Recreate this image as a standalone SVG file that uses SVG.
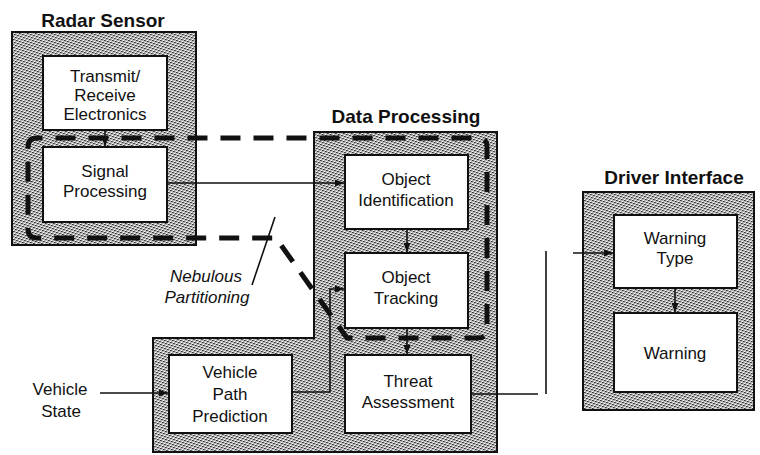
<svg xmlns="http://www.w3.org/2000/svg" width="760" height="455" viewBox="0 0 760 455">
<style>
.t{font-family:"Liberation Sans",Arial,Helvetica,sans-serif;font-size:17px;text-anchor:middle;fill:#111}
.title{font-family:"Liberation Sans",Arial,Helvetica,sans-serif;font-size:19px;font-weight:bold;text-anchor:middle;fill:#111}
.it{font-family:"Liberation Sans",Arial,Helvetica,sans-serif;font-size:17px;font-style:italic;text-anchor:middle;fill:#111}
.cont{fill:url(#stip);stroke:#111;stroke-width:2}
.box{fill:#fff;stroke:#111;stroke-width:2}
.conn{fill:none;stroke:#111;stroke-width:1.6}
.arr{marker-end:url(#ah)}
.part{fill:none;stroke:#111;stroke-width:5;stroke-dasharray:20 13}
</style>
<defs>
<pattern id="stip" width="8" height="8" patternUnits="userSpaceOnUse">
<g shape-rendering="crispEdges">
<rect width="8" height="8" fill="#b8b8b8"/>
<rect x="0" y="0" width="1" height="1" fill="#333"/>
<rect x="3" y="1" width="1" height="1" fill="#333"/>
<rect x="6" y="2" width="1" height="1" fill="#333"/>
<rect x="1" y="3" width="1" height="1" fill="#333"/>
<rect x="4" y="4" width="1" height="1" fill="#333"/>
<rect x="7" y="5" width="1" height="1" fill="#333"/>
<rect x="2" y="6" width="1" height="1" fill="#333"/>
<rect x="5" y="7" width="1" height="1" fill="#333"/>
<rect x="1" y="0" width="1" height="1" fill="#666"/>
<rect x="4" y="1" width="1" height="1" fill="#666"/>
<rect x="7" y="2" width="1" height="1" fill="#666"/>
<rect x="2" y="3" width="1" height="1" fill="#666"/>
<rect x="5" y="4" width="1" height="1" fill="#666"/>
<rect x="0" y="5" width="1" height="1" fill="#666"/>
<rect x="3" y="6" width="1" height="1" fill="#666"/>
<rect x="6" y="7" width="1" height="1" fill="#666"/>
<rect x="3" y="0" width="1" height="1" fill="#fff"/>
<rect x="6" y="1" width="1" height="1" fill="#fff"/>
<rect x="1" y="2" width="1" height="1" fill="#fff"/>
<rect x="4" y="3" width="1" height="1" fill="#fff"/>
<rect x="7" y="4" width="1" height="1" fill="#fff"/>
<rect x="2" y="5" width="1" height="1" fill="#fff"/>
<rect x="5" y="6" width="1" height="1" fill="#fff"/>
<rect x="0" y="7" width="1" height="1" fill="#fff"/>
</g>
</pattern>
<marker id="ah" markerUnits="userSpaceOnUse" markerWidth="9" markerHeight="7" refX="9" refY="3.5" orient="auto">
<path d="M0,0 L9,3.5 L0,7 Z" fill="#111"/>
</marker>
</defs>

<rect width="760" height="455" fill="#fff"/>

<!-- Containers -->
<g id="radar-sensor">
<text class="title" x="103" y="27">Radar Sensor</text>
<rect class="cont" x="12" y="32" width="184" height="213"/>
</g>
<g id="data-processing">
<text class="title" x="406" y="123">Data Processing</text>
<path class="cont" d="M314,132 L497,132 L497,452 L153,452 L153,338 L314,338 Z"/>
</g>
<g id="driver-interface">
<text class="title" x="674" y="184">Driver Interface</text>
<rect class="cont" x="583" y="192" width="171" height="218"/>
</g>

<!-- Nebulous partitioning boundary -->
<g id="partition">
<path class="part" d="M28,147 Q28,138 37,138 L478,138 Q487,138 487,147 L487,329 Q487,338 478,338 L347,338 L276,238 L37,238 Q28,238 28,229 Z"/>
<line x1="275" y1="217" x2="252" y2="285" stroke="#111" stroke-width="1.6"/>
<text class="it" x="206" y="282">Nebulous</text>
<text class="it" x="207" y="303">Partitioning</text>
</g>

<!-- Nodes -->
<g id="transmit-receive">
<rect class="box" x="43" y="56" width="124" height="74"/>
<text class="t" x="105" y="82">Transmit/</text>
<text class="t" x="105" y="101">Receive</text>
<text class="t" x="105" y="120">Electronics</text>
</g>
<g id="signal-processing">
<rect class="box" x="43" y="147" width="124" height="75"/>
<text class="t" x="105" y="177">Signal</text>
<text class="t" x="105" y="197">Processing</text>
</g>
<g id="object-identification">
<rect class="box" x="345" y="155" width="123" height="74"/>
<text class="t" x="406" y="185">Object</text>
<text class="t" x="406" y="206">Identification</text>
</g>
<g id="object-tracking">
<rect class="box" x="345" y="253" width="123" height="75"/>
<text class="t" x="406" y="283">Object</text>
<text class="t" x="406" y="304">Tracking</text>
</g>
<g id="threat-assessment">
<rect class="box" x="345" y="355" width="126" height="78"/>
<text class="t" x="408" y="387">Threat</text>
<text class="t" x="408" y="408">Assessment</text>
</g>
<g id="vehicle-path-prediction">
<rect class="box" x="169" y="355" width="123" height="78"/>
<text class="t" x="230" y="378">Vehicle</text>
<text class="t" x="230" y="400">Path</text>
<text class="t" x="230" y="422">Prediction</text>
</g>
<g id="vehicle-state">
<text class="t" x="60" y="395">Vehicle</text>
<text class="t" x="61" y="417">State</text>
</g>
<g id="warning-type">
<rect class="box" x="614" y="215" width="123" height="73"/>
<text class="t" x="675" y="244">Warning</text>
<text class="t" x="675" y="264">Type</text>
</g>
<g id="warning">
<rect class="box" x="614" y="313" width="123" height="79"/>
<text class="t" x="675" y="359">Warning</text>
</g>

<!-- Connectors -->
<g id="connectors">
<line class="conn arr" x1="105" y1="130" x2="105" y2="146"/>
<line class="conn arr" x1="167" y1="183" x2="344" y2="183"/>
<line class="conn arr" x1="407" y1="229" x2="407" y2="252"/>
<line class="conn arr" x1="407" y1="328" x2="407" y2="354"/>
<path class="conn arr" d="M292,392 L330,392 L330,289 L344,289"/>
<line class="conn arr" x1="100" y1="393" x2="168" y2="393"/>
<line class="conn" x1="471" y1="394" x2="538" y2="394"/>
<line class="conn" x1="546" y1="251" x2="546" y2="394"/>
<line class="conn arr" x1="573" y1="253" x2="613" y2="253"/>
<line class="conn arr" x1="675" y1="288" x2="675" y2="312"/>
</g>
</svg>
